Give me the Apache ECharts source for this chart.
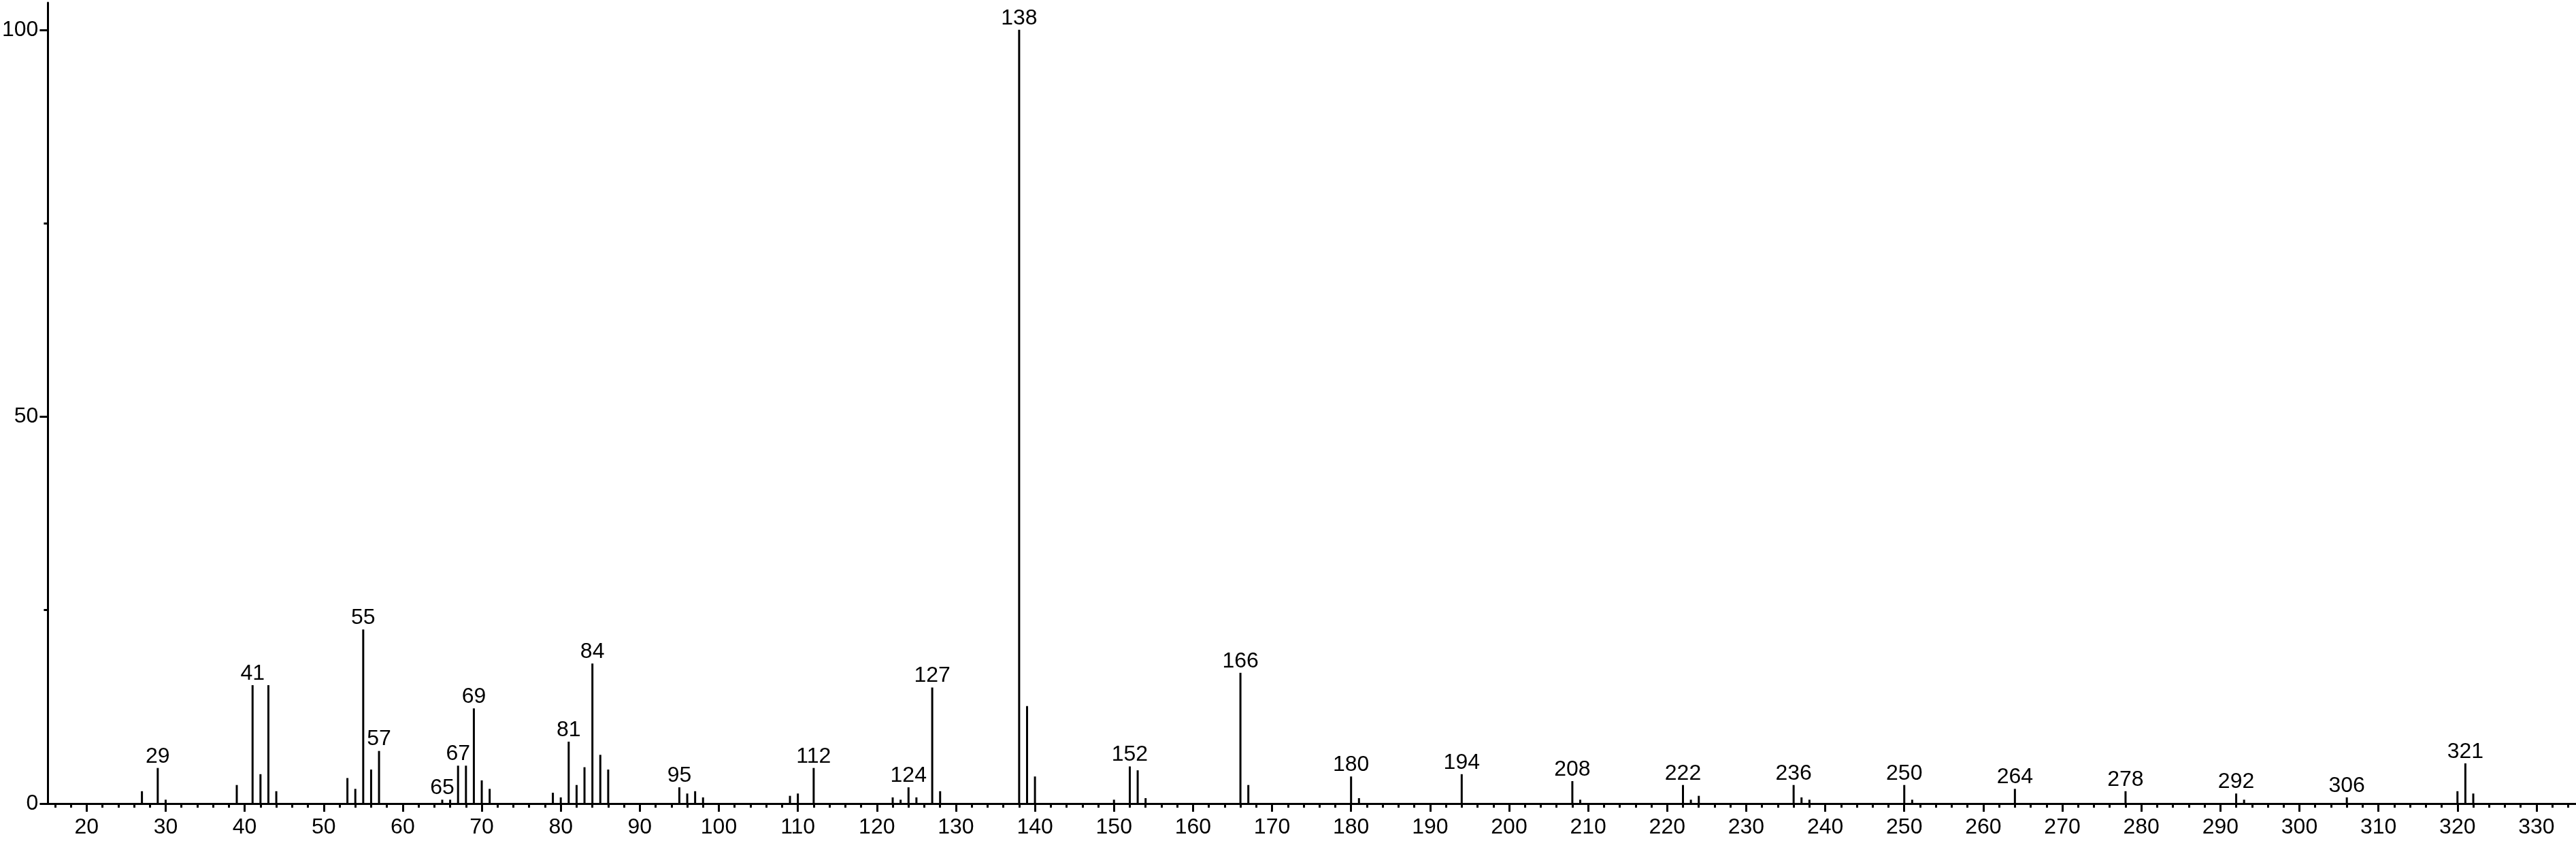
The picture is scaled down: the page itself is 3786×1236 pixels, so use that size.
<!DOCTYPE html>
<html><head><meta charset="utf-8">
<script src="https://cdn.jsdelivr.net/npm/echarts@6/dist/echarts.min.js"></script>
<style>html,body{margin:0;padding:0;background:#fff}#c{width:3786px;height:1236px}</style>
</head><body><div id="c"></div>
<script>
// m/z values of the peaks
const mz = [27,29,30,39,41,42,43,44,53,54,55,56,57,65,66,67,68,69,70,71,
  79,80,81,82,83,84,85,86,95,96,97,98,109,110,112,122,123,124,125,127,128,
  138,139,140,150,152,153,154,166,167,180,181,194,208,209,222,223,224,
  236,237,238,250,251,264,278,292,293,306,320,321,322];
// relative intensities (%)
const intensity = [1.6,4.6,0.5,2.4,15.3,3.8,15.3,1.6,3.3,1.9,22.5,4.4,6.8,0.5,0.5,4.9,4.9,12.3,3.0,1.9,
  1.4,0.8,8.0,2.4,4.7,18.1,6.3,4.4,2.1,1.3,1.6,0.8,1.0,1.3,4.6,0.8,0.5,2.1,0.8,15.0,1.6,
  100,12.6,3.5,0.5,4.8,4.3,0.7,16.9,2.4,3.5,0.7,3.8,2.9,0.5,2.4,0.5,1.0,
  2.4,0.8,0.5,2.4,0.5,1.9,1.6,1.3,0.5,0.8,1.6,5.2,1.3];
// peaks carrying an m/z label
const labeledMz = [29,41,55,57,65,67,69,81,84,95,112,124,127,138,152,166,180,194,208,222,236,250,264,278,292,306,321];
// axis tick labels
const xTickLabels = [20,30,40,50,60,70,80,90,100,110,120,130,140,150,160,170,180,190,200,210,220,230,240,250,260,270,280,290,300,310,320,330];
const yTickLabels = [0,50,100];
const yMinorTicks = [25,75];

const xMinorTicks = [];
for (let v = 16; v <= 334; v += 2) if (v % 10 !== 0) xMinorTicks.push(v);

const FONT = 'Liberation Sans, Arial, Helvetica, sans-serif';
const BLACK = '#000';

const data = mz.map((m, i) => ({
  value: [m, intensity[i]],
  label: { show: labeledMz.indexOf(m) >= 0 }
}));

const chart = echarts.init(document.getElementById('c'), null, { renderer: 'canvas' });
chart.setOption({
  animation: false,
  backgroundColor: '#fff',
  grid: { left: 69, right: 0, top: 4, bottom: 55, containLabel: false },
  xAxis: [
    {
      type: 'value', min: 15.1, max: 335,
      axisLine: { show: true, onZero: false, lineStyle: { color: BLACK, width: 3 } },
      axisTick: { show: true, customValues: xTickLabels, length: 12, lineStyle: { color: BLACK, width: 3 } },
      axisLabel: { show: true, customValues: xTickLabels, fontSize: 32, fontFamily: FONT, color: BLACK, margin: 19 },
      splitLine: { show: false }
    },
    {
      type: 'value', min: 15.1, max: 335, position: 'bottom',
      axisLine: { show: false },
      axisTick: { show: true, customValues: xMinorTicks, length: 6, lineStyle: { color: BLACK, width: 3 } },
      axisLabel: { show: false },
      splitLine: { show: false }
    }
  ],
  yAxis: [
    {
      type: 'value', min: 0, max: 103.5,
      axisLine: { show: true, onZero: false, lineStyle: { color: BLACK, width: 3 } },
      axisTick: { show: true, customValues: yTickLabels, length: 12, lineStyle: { color: BLACK, width: 3 } },
      axisLabel: { show: true, customValues: yTickLabels, fontSize: 32, fontFamily: FONT, color: BLACK, margin: 14 },
      splitLine: { show: false }
    },
    {
      type: 'value', min: 0, max: 103.5, position: 'left',
      axisLine: { show: false },
      axisTick: { show: true, customValues: yMinorTicks, length: 6, lineStyle: { color: BLACK, width: 3 } },
      axisLabel: { show: false },
      splitLine: { show: false }
    }
  ],
  series: [{
    type: 'bar',
    xAxisIndex: 0, yAxisIndex: 0,
    barWidth: 3,
    itemStyle: { color: BLACK },
    label: {
      position: 'top', distance: 1,
      fontSize: 32, fontFamily: FONT, color: BLACK,
      formatter: p => String(p.value[0])
    },
    data: data
  }]
});
</script>
</body></html>
